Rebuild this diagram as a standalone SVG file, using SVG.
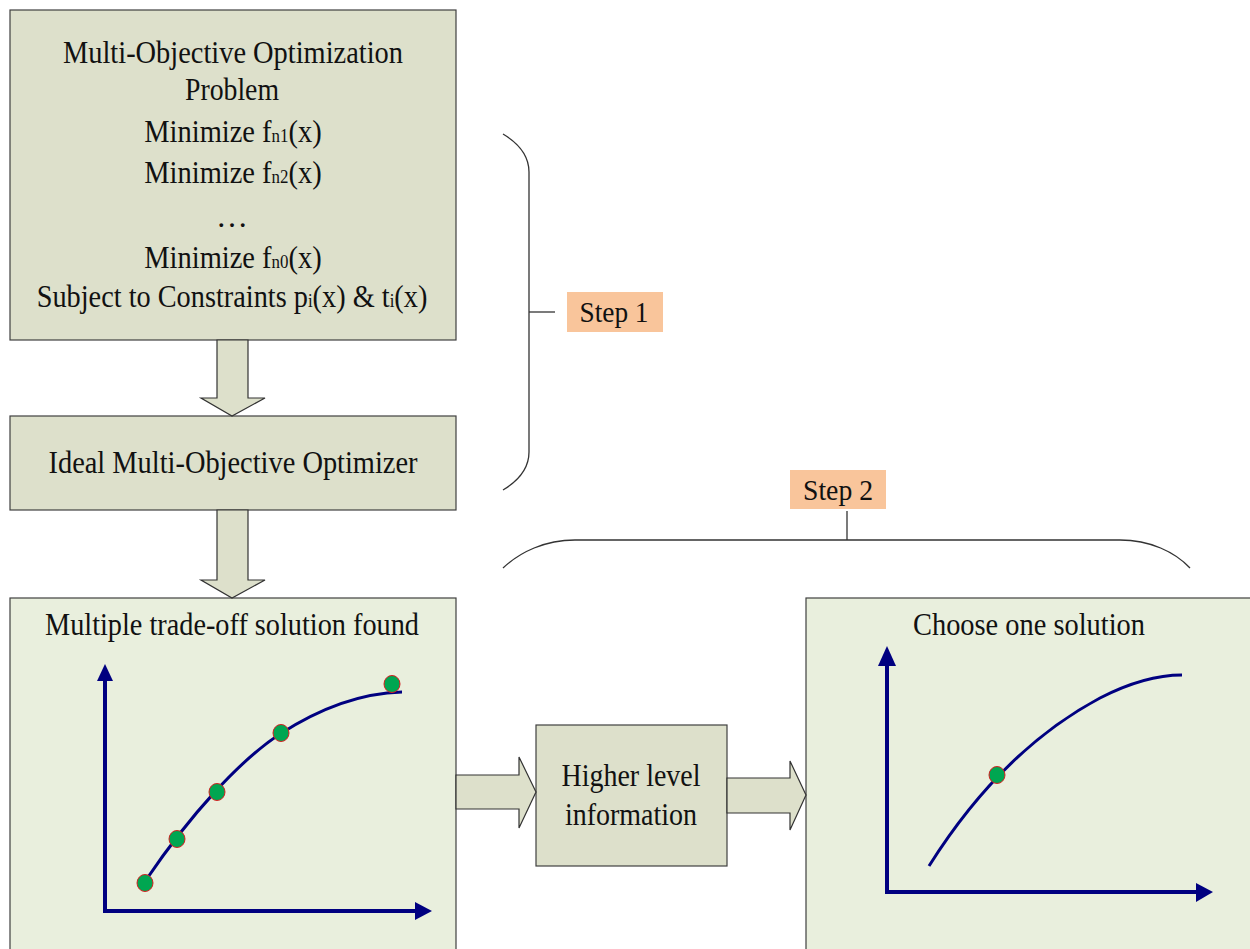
<svg xmlns="http://www.w3.org/2000/svg" width="1250" height="949" viewBox="0 0 1250 949">
<style>
.box{fill:#dde0cb;stroke:#404040;stroke-width:1.2}
.pane{fill:#e9efdd;stroke:#404040;stroke-width:1.2}
.arr{fill:#dde0cb;stroke:#333;stroke-width:1.2}
.t{font-family:"Liberation Serif","Times New Roman",serif;font-size:32px;fill:#111;text-anchor:middle}
.sub{font-size:19px}
.step{fill:#f9c59b}
.brace{fill:none;stroke:#333;stroke-width:1.3}
.axis{stroke:#000080;stroke-width:4;fill:none}
.head{fill:#000080}
.curve{stroke:#000080;stroke-width:3;fill:none}
.dot{fill:#00a651;stroke:#d42020;stroke-width:1}
</style>
<rect width="1250" height="949" fill="#fff"/>
<g id="problem">
<rect class="box" x="10" y="10" width="446" height="330"/>
<text class="t" x="233" y="63" textLength="340" lengthAdjust="spacingAndGlyphs">Multi-Objective Optimization</text>
<text class="t" x="232" y="100" textLength="94" lengthAdjust="spacingAndGlyphs">Problem</text>
<text class="t" transform="translate(233,142) scale(0.89,1)" x="0" y="0">Minimize f<tspan class="sub">n1</tspan>(x)</text>
<text class="t" transform="translate(233,183) scale(0.89,1)" x="0" y="0">Minimize f<tspan class="sub">n2</tspan>(x)</text>
<text class="t" x="232" y="227">…</text>
<text class="t" transform="translate(233,268) scale(0.89,1)" x="0" y="0">Minimize f<tspan class="sub">n0</tspan>(x)</text>
<text class="t" transform="translate(232,307) scale(0.885,1)" x="0" y="0">Subject to Constraints p<tspan class="sub">i</tspan>(x) &amp; t<tspan class="sub">i</tspan>(x)</text>
</g>
<g id="optimizer">
<rect class="box" x="10" y="416" width="446" height="94"/>
<text class="t" x="233" y="473" textLength="369" lengthAdjust="spacingAndGlyphs">Ideal Multi-Objective Optimizer</text>
</g>
<g id="tradeoff">
<rect class="pane" x="10" y="598" width="446" height="360"/>
<text class="t" x="232" y="635" textLength="374" lengthAdjust="spacingAndGlyphs">Multiple trade-off solution found</text>
<line class="axis" x1="105" y1="911" x2="105" y2="678"/>
<polygon class="head" points="97,681 113,681 105,664"/>
<line class="axis" x1="103" y1="911" x2="417" y2="911"/>
<polygon class="head" points="415,902 415,920 432,911"/>
<path class="curve" d="M146,880 C190,815 240,760 280,734 C325,705 365,693 402,692"/>
<ellipse class="dot" cx="145" cy="883" rx="8" ry="8.5"/>
<ellipse class="dot" cx="177" cy="839" rx="8" ry="8.5"/>
<ellipse class="dot" cx="217" cy="792" rx="8" ry="8.5"/>
<ellipse class="dot" cx="281" cy="733" rx="8" ry="8.5"/>
<ellipse class="dot" cx="392" cy="684" rx="8" ry="8.5"/>
</g>
<g id="higher">
<rect class="box" x="536" y="725" width="191" height="141"/>
<text class="t" x="631" y="786" textLength="139" lengthAdjust="spacingAndGlyphs">Higher level</text>
<text class="t" x="631" y="825" textLength="132" lengthAdjust="spacingAndGlyphs">information</text>
</g>
<g id="choose">
<rect class="pane" x="806" y="598" width="450" height="360"/>
<text class="t" x="1029" y="635" textLength="232" lengthAdjust="spacingAndGlyphs">Choose one solution</text>
<line class="axis" x1="887" y1="892" x2="887" y2="663"/>
<polygon class="head" points="878,666 896,666 887,646"/>
<line class="axis" x1="885" y1="892" x2="1198" y2="892"/>
<polygon class="head" points="1196,883 1196,902 1213,892"/>
<path class="curve" d="M929,866 C980,785 1040,730 1100,698 C1135,680 1160,675 1182,675"/>
<ellipse class="dot" cx="997" cy="775" rx="8" ry="8.5"/>
</g>
<g id="step1">
<rect class="step" x="567" y="292" width="96" height="40"/>
<text class="t" x="614" y="322" style="font-size:30px" textLength="69" lengthAdjust="spacingAndGlyphs">Step 1</text>
</g>
<g id="step2">
<rect class="step" x="790" y="470" width="96" height="39"/>
<text class="t" x="838" y="500" style="font-size:30px" textLength="70" lengthAdjust="spacingAndGlyphs">Step 2</text>
</g>
<g id="connectors">
<polygon class="arr" points="217,340 248,340 248,398 265,398 232,416 201,398 217,398"/>
<polygon class="arr" points="217,510 248,510 248,580 265,580 232,598 201,580 217,580"/>
<polygon class="arr" points="456,775 519,775 519,757 536,792 519,828 519,809 456,809"/>
<polygon class="arr" points="727,778 790,778 790,761 806,795 790,830 790,813 727,813"/>
<path class="brace" d="M503,134 C518,143 529,156 529,172 V452 C529,468 518,481 503,490"/>
<path class="brace" d="M529,312 H555"/>
<path class="brace" d="M503,568 C520,552 545,540 575,540 H1120 C1150,540 1175,552 1190,568"/>
<path class="brace" d="M847,540 V511"/>
</g>
</svg>
